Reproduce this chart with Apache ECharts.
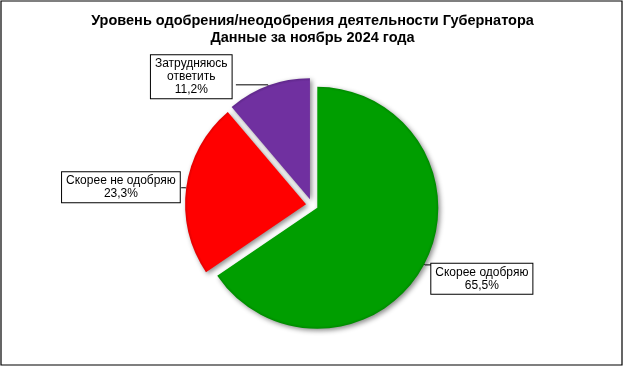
<!DOCTYPE html>
<html>
<head>
<meta charset="utf-8">
<script src="https://cdn.jsdelivr.net/npm/echarts@6/dist/echarts.min.js"></script>
<style>
html,body{margin:0;padding:0;background:#fff;}
#c{width:625px;height:367px;}
</style>
</head>
<body>
<div id="c"></div>
<script>
const titleLines = ['Уровень одобрения/неодобрения деятельности Губернатора', 'Данные за ноябрь 2024 года'];
const categories = ['Скорее одобряю', 'Скорее не одобряю', 'Затрудняюсь\nответить'];
const values = [65.5, 23.3, 11.2];
const colors = ['#009e00', '#ff0000', '#7030a0'];
const edgeColors = ['#005f00', '#a00000', '#3e1560'];
const labelBoxes = [[424, 260], [68, 172], [153, 60]];
const leaderLens = [[1, 6], [1, 4], [1, 32]];

const cx = 312, cy = 205, R = 121;
function fmt(v){ return v.toFixed(1).replace('.', ','); }

const data = values.map((v, i) => ({
  name: categories[i],
  value: v,
  selected: true,
  labelLine: {length: leaderLens[i][0], length2: leaderLens[i][1]},
  itemStyle: {
    color: {
      type: 'radial', x: cx, y: cy, r: R + 6, global: true,
      colorStops: [
        {offset: 0, color: colors[i]},
        {offset: 0.93, color: colors[i]},
        {offset: 1, color: edgeColors[i]}
      ]
    }
  }
}));

const chart = echarts.init(document.getElementById('c'));
chart.setOption({
  backgroundColor: '#ffffff',
  animation: false,
  title: {
    text: titleLines.join('\n'),
    left: 'center',
    top: 7,
    textStyle: {fontFamily: 'Liberation Sans, Arial', fontSize: 14.5, fontWeight: 'bold', color: '#000', lineHeight: 17}
  },
  graphic: [{
    type: 'rect', shape: {x: 1, y: 1, width: 621, height: 364},
    style: {fill: 'none', stroke: '#000', lineWidth: 1.2}, silent: true
  }],
  series: [{
    type: 'pie',
    center: [cx, cy],
    radius: R,
    startAngle: 90,
    clockwise: true,
    selectedMode: 'multiple',
    selectedOffset: 6,
    data: data,
    itemStyle: {
      borderWidth: 0,
      shadowBlur: 5,
      shadowColor: 'rgba(0,0,0,0.45)',
      shadowOffsetX: 2,
      shadowOffsetY: 2
    },
    emphasis: {disabled: true},
    label: {
      show: true,
      position: 'outside',
      formatter: p => p.name + '\n' + fmt(p.value) + '%',
      fontFamily: 'Liberation Sans, Arial',
      fontSize: 12,
      lineHeight: 13,
      color: '#000',
      backgroundColor: '#fff',
      borderColor: '#000',
      borderWidth: 1,
      padding: [2, 4, 2, 4]
    },
    labelLine: {
      show: true,
      lineStyle: {color: '#000', width: 1}
    },
    labelLayout: function (p) {
      const c = labelBoxes[p.dataIndex];
      const r = p.labelRect;
      let anchorX = r.x;
      if (p.align === 'right') anchorX = r.x + r.width;
      else if (p.align === 'center') anchorX = r.x + r.width / 2;
      return {dx: c[0] - anchorX + r.width / 2, dy: c[1] - r.y, align: 'center'};
    }
  }]
});
</script>
</body>
</html>
